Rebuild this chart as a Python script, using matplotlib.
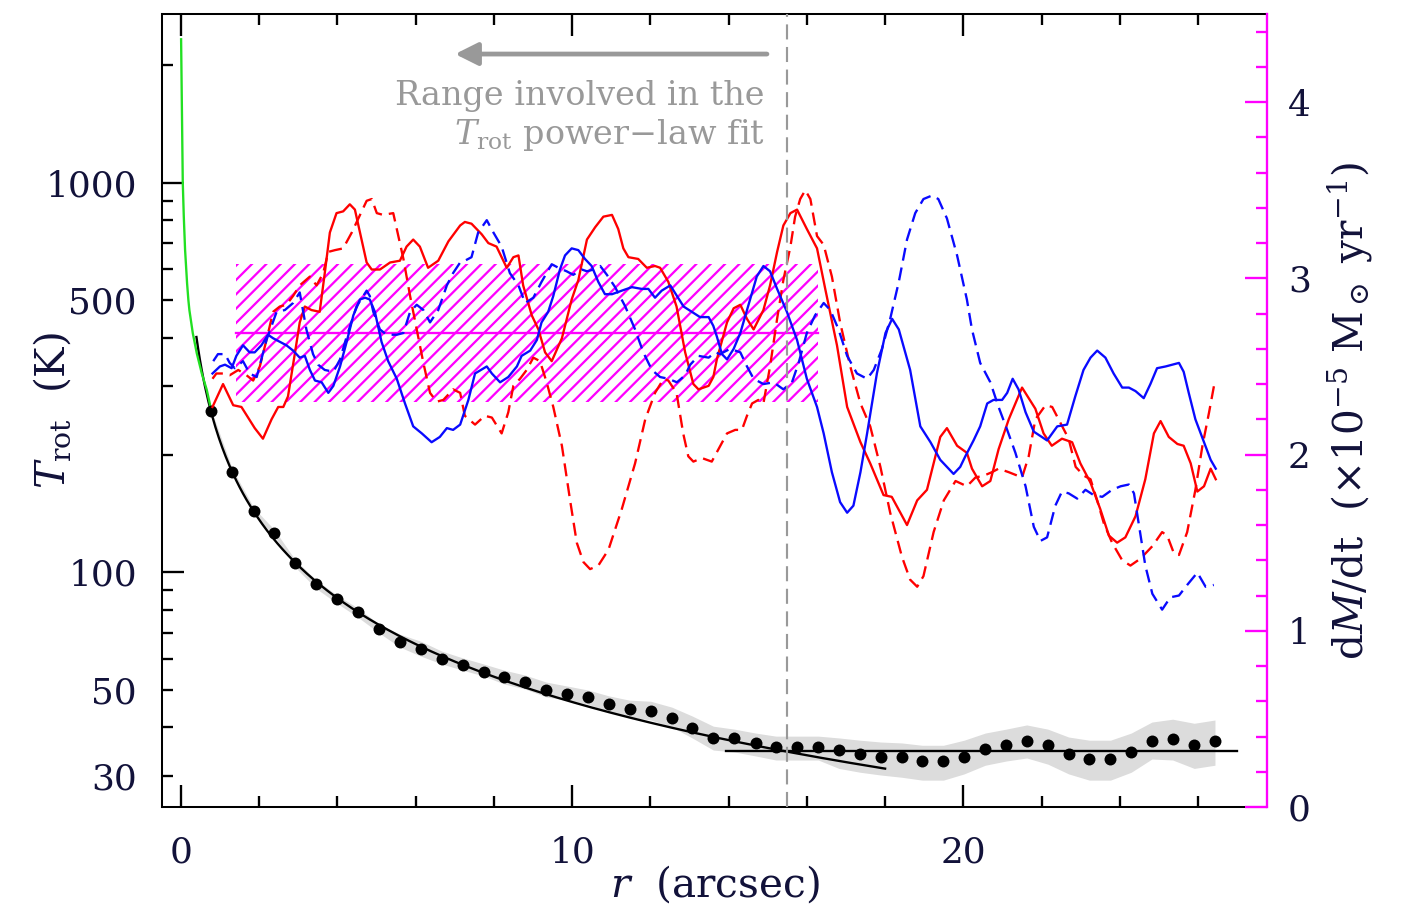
import numpy as np
import matplotlib
matplotlib.use("Agg")
import matplotlib.pyplot as plt
from matplotlib.ticker import FixedLocator, MultipleLocator, FuncFormatter
from matplotlib.patches import Rectangle

# ---------------- data ----------------
# T_rot radial profile (left axis, K)
DOT_R = [0.77, 1.32, 1.87, 2.39, 2.92, 3.46, 4.00, 4.52, 5.07, 5.60,
         6.13, 6.67, 7.21, 7.74, 8.27, 8.80, 9.34, 9.87, 10.41, 10.94,
         11.47, 12.01, 12.55, 13.07, 13.61, 14.15, 14.69, 15.21, 15.74, 16.29,
         16.82, 17.36, 17.89, 18.43, 18.95, 19.49, 20.02, 20.56, 21.09, 21.62,
         22.16, 22.69, 23.22, 23.76, 24.29, 24.82, 25.35, 25.90, 26.43]
DOT_T = [259.4, 181.2, 143.6, 126.4, 105.5, 93.1, 85.4, 78.9, 71.5, 66.3,
         63.5, 59.8, 58.0, 55.6, 54.0, 52.2, 49.9, 48.8, 47.9, 45.9,
         44.5, 44.1, 42.3, 39.9, 37.5, 37.5, 36.5, 35.6, 35.6, 35.6,
         35.0, 34.2, 33.6, 33.6, 32.8, 32.8, 33.6, 35.3, 36.0, 36.9,
         36.0, 34.2, 33.2, 33.2, 34.6, 36.9, 37.4, 36.0, 36.9]
BAND_HI = [262.5, 184.1, 146.2, 128.8, 107.9, 95.5, 87.4, 81.0, 73.7, 69.4,
           66.6, 62.8, 60.3, 58.2, 56.1, 54.5, 52.3, 51.1, 49.9, 48.2,
           47.0, 46.7, 45.1, 42.8, 40.3, 39.6, 38.7, 38.0, 38.0, 38.0,
           37.6, 37.1, 36.7, 36.5, 36.0, 36.0, 37.1, 38.7, 39.6, 40.6,
           39.6, 37.8, 37.1, 37.1, 38.7, 41.3, 42.0, 41.0, 41.8]
BAND_LO = [256.4, 178.2, 141.1, 124.0, 103.2, 90.9, 83.2, 76.8, 69.9, 64.3,
           61.0, 58.2, 56.1, 54.2, 51.7, 50.2, 47.9, 47.0, 45.9, 43.8,
           42.5, 41.8, 40.1, 37.6, 35.0, 34.6, 33.8, 33.0, 33.0, 33.0,
           31.4, 30.7, 30.2, 29.8, 29.3, 29.3, 30.4, 32.0, 32.8, 33.4,
           32.2, 30.4, 29.3, 29.3, 30.7, 33.2, 33.0, 31.4, 32.0]

# power-law fit T = T0 * r^-alpha, and its inward extrapolation (green)
FIT_T0 = 217.5
FIT_ALPHA = 0.67
FIT_R_RANGE = (0.40, 18.0)
GREEN_R = [0.008, 0.026, 0.041, 0.051, 0.077, 0.110, 0.161, 0.194, 0.220,
           0.307, 0.409, 0.537, 0.664, 0.774]
GREEN_T = [2334, 1631, 1213, 1000, 818, 672, 552, 500, 471,
           411, 365, 324, 294, 262]
# constant temperature in the outer part
MEAN_T = 34.8
MEAN_R_RANGE = (13.93, 26.99)

# mass-loss rate (right axis, 1e-5 Msun/yr): [r, dM/dt]
RED_SOLID = [
    (0.81, 2.27), (1.08, 2.40), (1.34, 2.28), (1.55, 2.27), (1.89, 2.15), (2.10, 2.09),
    (2.32, 2.20), (2.49, 2.27), (2.62, 2.27), (2.74, 2.33), (2.92, 2.58), (3.04, 2.75),
    (3.17, 2.84), (3.34, 2.82), (3.55, 2.81), (3.68, 3.03), (3.81, 3.26), (3.98, 3.37),
    (4.15, 3.38), (4.32, 3.42), (4.45, 3.39), (4.62, 3.22), (4.75, 3.09), (4.88, 3.05),
    (5.09, 3.05), (5.35, 3.09), (5.60, 3.10), (5.77, 3.18), (5.94, 3.22), (6.11, 3.18),
    (6.32, 3.06), (6.58, 3.10), (6.84, 3.21), (7.14, 3.30), (7.26, 3.32), (7.43, 3.31),
    (7.69, 3.25), (7.86, 3.20), (8.07, 3.18), (8.33, 3.06), (8.50, 3.12), (8.63, 3.13),
    (8.75, 2.96), (8.97, 2.79), (9.14, 2.71), (9.31, 2.58), (9.48, 2.53), (9.74, 2.66),
    (9.99, 2.88), (10.16, 2.99), (10.38, 3.22), (10.59, 3.29), (10.80, 3.35), (11.02, 3.36),
    (11.18, 3.28), (11.31, 3.17), (11.44, 3.12), (11.69, 3.11), (11.91, 3.06), (12.12, 3.07),
    (12.25, 3.06), (12.46, 2.98), (12.67, 2.84), (12.89, 2.58), (13.10, 2.40), (13.23, 2.37),
    (13.49, 2.39), (13.61, 2.44), (13.70, 2.54), (13.96, 2.75), (14.13, 2.83), (14.30, 2.85),
    (14.47, 2.77), (14.64, 2.71), (14.89, 2.82), (15.06, 2.96), (15.24, 3.15), (15.40, 3.30),
    (15.58, 3.37), (15.75, 3.39), (16.00, 3.28), (16.26, 3.17), (16.47, 2.94), (16.77, 2.62),
    (17.03, 2.27), (17.37, 2.07), (17.62, 1.95), (17.96, 1.77), (18.17, 1.76), (18.39, 1.67),
    (18.56, 1.60), (18.82, 1.74), (19.07, 1.80), (19.41, 2.10), (19.58, 2.15), (19.84, 2.05),
    (20.09, 2.01), (20.22, 1.92), (20.48, 1.82), (20.69, 1.85), (20.90, 2.03), (21.16, 2.20),
    (21.50, 2.38), (21.84, 2.26), (22.05, 2.12), (22.26, 2.05), (22.52, 2.09), (22.78, 2.07),
    (22.99, 1.95), (23.25, 1.84), (23.50, 1.69), (23.72, 1.54), (23.93, 1.50), (24.14, 1.53),
    (24.40, 1.65), (24.65, 1.86), (24.87, 2.12), (25.04, 2.19), (25.25, 2.10), (25.47, 2.06),
    (25.63, 2.05), (25.81, 1.95), (25.98, 1.79), (26.15, 1.82), (26.32, 1.92), (26.45, 1.86)]
RED_DASHED = [
    (0.81, 2.43), (0.91, 2.46), (1.08, 2.46), (1.25, 2.45), (1.47, 2.48), (1.68, 2.45),
    (1.85, 2.42), (2.02, 2.50), (2.19, 2.65), (2.36, 2.81), (2.53, 2.84), (2.70, 2.85),
    (2.87, 2.90), (3.04, 2.96), (3.30, 3.01), (3.47, 2.96), (3.64, 3.03), (3.77, 3.15),
    (3.94, 3.16), (4.15, 3.17), (4.37, 3.26), (4.58, 3.36), (4.75, 3.44), (4.88, 3.45),
    (5.01, 3.37), (5.17, 3.36), (5.43, 3.37), (5.56, 3.24), (5.69, 3.11), (5.86, 2.90),
    (6.03, 2.71), (6.20, 2.52), (6.37, 2.35), (6.54, 2.30), (6.71, 2.31), (6.96, 2.37),
    (7.14, 2.35), (7.26, 2.22), (7.52, 2.17), (7.77, 2.22), (7.95, 2.21), (8.20, 2.12),
    (8.37, 2.24), (8.50, 2.39), (8.67, 2.43), (8.84, 2.48), (9.01, 2.55), (9.18, 2.53),
    (9.35, 2.41), (9.52, 2.27), (9.74, 2.05), (9.95, 1.74), (10.12, 1.50), (10.29, 1.39),
    (10.46, 1.35), (10.67, 1.37), (10.93, 1.46), (11.27, 1.69), (11.61, 1.95), (11.87, 2.20),
    (12.12, 2.35), (12.34, 2.43), (12.46, 2.42), (12.67, 2.35), (12.84, 2.12), (12.97, 1.99),
    (13.10, 1.96), (13.32, 1.98), (13.57, 1.96), (13.74, 2.03), (13.96, 2.12), (14.17, 2.14),
    (14.34, 2.14), (14.47, 2.22), (14.60, 2.29), (14.76, 2.31), (14.89, 2.29), (15.06, 2.50),
    (15.24, 2.77), (15.40, 2.99), (15.58, 3.18), (15.70, 3.35), (15.83, 3.45), (15.96, 3.50),
    (16.09, 3.45), (16.26, 3.24), (16.43, 3.19), (16.64, 3.01), (16.85, 2.75), (17.11, 2.50),
    (17.37, 2.29), (17.62, 2.16), (17.88, 1.93), (18.13, 1.67), (18.43, 1.42), (18.64, 1.29),
    (18.82, 1.25), (18.98, 1.31), (19.24, 1.56), (19.50, 1.74), (19.80, 1.85), (20.09, 1.82),
    (20.31, 1.87), (20.52, 1.88), (20.73, 1.90), (20.90, 1.92), (21.16, 1.90), (21.50, 1.87),
    (21.67, 1.99), (21.84, 2.20), (22.10, 2.28), (22.27, 2.27), (22.48, 2.18), (22.69, 2.09),
    (22.87, 1.93), (23.08, 1.88), (23.25, 1.86), (23.42, 1.74), (23.59, 1.61), (23.80, 1.50),
    (24.06, 1.40), (24.27, 1.37), (24.53, 1.41), (24.83, 1.48), (25.08, 1.56), (25.21, 1.54),
    (25.38, 1.44), (25.51, 1.43), (25.72, 1.56), (25.93, 1.80), (26.11, 2.05), (26.28, 2.24),
    (26.43, 2.42)]
BLUE_SOLID = [
    (0.81, 2.46), (1.00, 2.50), (1.13, 2.51), (1.30, 2.49), (1.42, 2.56), (1.59, 2.62),
    (1.76, 2.58), (1.89, 2.58), (2.06, 2.62), (2.23, 2.68), (2.36, 2.66), (2.53, 2.64),
    (2.70, 2.62), (2.87, 2.59), (3.04, 2.55), (3.17, 2.56), (3.30, 2.48), (3.43, 2.42),
    (3.60, 2.41), (3.77, 2.35), (3.90, 2.39), (4.07, 2.50), (4.24, 2.64), (4.41, 2.79),
    (4.58, 2.88), (4.71, 2.89), (4.83, 2.88), (4.96, 2.81), (5.13, 2.64), (5.30, 2.53),
    (5.52, 2.43), (5.73, 2.29), (5.94, 2.16), (6.16, 2.12), (6.41, 2.07), (6.62, 2.10),
    (6.80, 2.15), (6.96, 2.14), (7.14, 2.17), (7.35, 2.31), (7.52, 2.46), (7.82, 2.50),
    (7.95, 2.46), (8.16, 2.41), (8.37, 2.44), (8.59, 2.50), (8.71, 2.56), (8.93, 2.59),
    (9.10, 2.65), (9.22, 2.75), (9.39, 2.81), (9.52, 2.90), (9.69, 3.05), (9.82, 3.13),
    (9.99, 3.17), (10.16, 3.16), (10.33, 3.11), (10.50, 3.07), (10.67, 2.98), (10.84, 2.91),
    (11.02, 2.91), (11.27, 2.93), (11.53, 2.95), (11.78, 2.94), (11.95, 2.94), (12.12, 2.89),
    (12.29, 2.93), (12.51, 2.96), (12.68, 2.90), (12.85, 2.84), (13.06, 2.81), (13.27, 2.78),
    (13.49, 2.78), (13.61, 2.73), (13.70, 2.67), (13.83, 2.57), (13.96, 2.54), (14.13, 2.60),
    (14.30, 2.69), (14.55, 2.88), (14.72, 3.01), (14.89, 3.07), (15.06, 3.04), (15.24, 2.94),
    (15.49, 2.81), (15.75, 2.65), (16.00, 2.43), (16.26, 2.27), (16.43, 2.12), (16.64, 1.90),
    (16.85, 1.73), (17.03, 1.67), (17.19, 1.71), (17.37, 1.90), (17.54, 2.12), (17.79, 2.46),
    (18.01, 2.69), (18.18, 2.77), (18.35, 2.71), (18.64, 2.48), (18.90, 2.16), (19.16, 2.07),
    (19.41, 1.97), (19.75, 1.89), (19.92, 1.93), (20.05, 1.99), (20.26, 2.08), (20.43, 2.16),
    (20.61, 2.29), (20.77, 2.31), (20.99, 2.31), (21.12, 2.35), (21.26, 2.43), (21.41, 2.37),
    (21.59, 2.24), (21.80, 2.13), (22.14, 2.08), (22.40, 2.16), (22.65, 2.17), (22.86, 2.33),
    (23.07, 2.48), (23.25, 2.55), (23.42, 2.59), (23.63, 2.55), (23.84, 2.46), (24.06, 2.38),
    (24.23, 2.38), (24.40, 2.36), (24.61, 2.32), (24.78, 2.40), (24.95, 2.49), (25.17, 2.50),
    (25.34, 2.51), (25.51, 2.52), (25.63, 2.47), (25.76, 2.35), (25.93, 2.20), (26.15, 2.07),
    (26.32, 1.97), (26.45, 1.92)]
BLUE_DASHED = [
    (0.83, 2.53), (0.95, 2.57), (1.13, 2.57), (1.25, 2.52), (1.38, 2.49), (1.59, 2.53),
    (1.76, 2.46), (1.94, 2.44), (2.19, 2.65), (2.45, 2.81), (2.66, 2.82), (2.87, 2.86),
    (3.04, 2.92), (3.21, 2.71), (3.38, 2.57), (3.51, 2.51), (3.68, 2.48), (3.90, 2.47),
    (4.07, 2.54), (4.24, 2.67), (4.49, 2.84), (4.75, 2.93), (4.83, 2.90), (4.92, 2.81),
    (5.09, 2.71), (5.26, 2.68), (5.52, 2.68), (5.69, 2.69), (5.86, 2.81), (6.03, 2.85),
    (6.20, 2.82), (6.37, 2.75), (6.58, 2.82), (6.80, 2.96), (6.96, 3.03), (7.14, 3.09),
    (7.26, 3.10), (7.43, 3.12), (7.60, 3.26), (7.82, 3.33), (7.99, 3.26), (8.20, 3.18),
    (8.41, 3.03), (8.63, 2.96), (8.80, 2.86), (9.01, 2.89), (9.22, 2.98), (9.48, 3.08),
    (9.65, 3.06), (9.86, 3.04), (10.03, 3.02), (10.25, 3.05), (10.38, 3.04), (10.55, 3.05),
    (10.72, 3.07), (10.89, 3.02), (11.10, 2.95), (11.36, 2.84), (11.61, 2.71), (11.82, 2.58),
    (12.04, 2.48), (12.25, 2.44), (12.46, 2.43), (12.68, 2.41), (12.89, 2.45), (13.02, 2.51),
    (13.23, 2.56), (13.49, 2.55), (13.66, 2.58), (13.78, 2.57), (14.04, 2.60), (14.30, 2.58),
    (14.47, 2.50), (14.64, 2.43), (14.89, 2.40), (15.15, 2.41), (15.40, 2.37), (15.62, 2.41),
    (15.79, 2.52), (16.00, 2.69), (16.21, 2.79), (16.43, 2.86), (16.60, 2.82), (16.81, 2.71),
    (17.03, 2.56), (17.28, 2.46), (17.54, 2.43), (17.71, 2.48), (17.92, 2.60), (18.13, 2.77),
    (18.35, 2.98), (18.56, 3.22), (18.77, 3.37), (18.98, 3.45), (19.20, 3.47), (19.36, 3.45),
    (19.58, 3.34), (19.84, 3.13), (20.09, 2.88), (20.22, 2.71), (20.43, 2.52), (20.69, 2.41),
    (20.90, 2.27), (21.12, 2.14), (21.33, 2.01), (21.59, 1.82), (21.80, 1.59), (21.97, 1.51),
    (22.14, 1.53), (22.35, 1.71), (22.52, 1.79), (22.69, 1.78), (22.91, 1.75), (23.12, 1.80),
    (23.33, 1.77), (23.55, 1.76), (23.80, 1.80), (24.02, 1.82), (24.23, 1.83), (24.36, 1.78),
    (24.48, 1.61), (24.65, 1.37), (24.83, 1.21), (25.08, 1.12), (25.29, 1.19), (25.51, 1.20),
    (25.72, 1.26), (25.98, 1.33), (26.19, 1.25), (26.40, 1.26)]

# mean mass-loss rate and its range over the fitted radii
MDOT_MEAN = 2.69
MDOT_LO, MDOT_HI = 2.30, 3.08
MDOT_R_RANGE = (1.41, 16.29)

# limit of the range used in the power-law fit
FIT_LIMIT_R = 15.49
ARROW_R = (14.98, 7.01)
ARROW_T = 2139
TEXT_R = 14.93
TEXT_T = (1582, 1257)
TEXT_LINES = ["Range involved in the", "$T_{\\rm rot}$ power\u2212law fit"]

X_MAJOR = [0, 10, 20]
Y_MAJOR = [100, 1000]
Y_MINOR = [30, 40, 50, 60, 70, 80, 90, 200, 300, 400, 500, 600, 700, 800, 900, 2000]
Y_MINOR_LABELED = [30, 50, 500]
Y2_MAJOR = [0, 1, 2, 3, 4]

# ---------------- style ----------------
DPI = 86
W, H = 1408, 907
plt.rcParams['font.family'] = ['DejaVu Serif', 'DejaVu Sans']
plt.rcParams['mathtext.fontset'] = 'dejavuserif'
plt.rcParams['hatch.linewidth'] = 1.9
plt.rcParams['axes.linewidth'] = 1.7

NAVY = '#12123a'
MAG = '#ff00ff'
RED = '#ff0000'
BLUE = '#0a0aff'
GREEN = '#22e022'
GRAY = '#999999'
BANDC = '#dcdcdc'
LW = 1.95

fig = plt.figure(figsize=(W / DPI, H / DPI), dpi=DPI)
ax = fig.add_axes([162 / W, 1 - 807 / H, (1267 - 162) / W, (807 - 14) / H])
ax.set_yscale('log')
ax.set_xlim(-0.48, 27.76)
ax.set_ylim(25, 2710)

# temperature profile
ax.fill_between(DOT_R, BAND_LO, BAND_HI, color=BANDC, lw=0, zorder=1)
rr = np.linspace(FIT_R_RANGE[0], FIT_R_RANGE[1], 400)
ax.plot(rr, FIT_T0 * rr ** (-FIT_ALPHA), color='k', lw=LW, zorder=2)
ax.plot(MEAN_R_RANGE, [MEAN_T, MEAN_T], color='k', lw=LW, zorder=2)
ax.plot(GREEN_R, GREEN_T, color=GREEN, lw=LW, zorder=3)
ax.plot(DOT_R, DOT_T, 'o', color='k', ms=10, mec='none', zorder=4)

# annotation
for t, yv in zip(TEXT_LINES, TEXT_T):
    ax.text(TEXT_R, yv, t, ha='right', va='baseline', fontsize=28, color=GRAY)
ax.annotate('', xy=(ARROW_R[1], ARROW_T), xytext=(ARROW_R[0], ARROW_T),
            arrowprops=dict(arrowstyle='-|>,head_length=1.6,head_width=0.8',
                            color=GRAY, lw=4, shrinkA=0, shrinkB=0))

# ticks / left axis
ax.xaxis.set_major_locator(FixedLocator(X_MAJOR))
ax.xaxis.set_minor_locator(MultipleLocator(2))
ax.xaxis.set_major_formatter(FuncFormatter(lambda v, p: f'{v:g}'))
ax.tick_params(axis='x', which='both', direction='in', top=True, bottom=True,
               width=LW, color='k', labelcolor=NAVY, labelsize=30, pad=24)
ax.tick_params(axis='x', which='major', length=18.5)
ax.tick_params(axis='x', which='minor', length=9.2)

ax.yaxis.set_major_locator(FixedLocator(Y_MAJOR))
ax.yaxis.set_minor_locator(FixedLocator(Y_MINOR))
ax.yaxis.set_major_formatter(FuncFormatter(lambda v, p: f'{v:g}'))
ax.yaxis.set_minor_formatter(FuncFormatter(
    lambda v, p: f'{v:g}' if any(abs(v - l) < 1e-6 for l in Y_MINOR_LABELED) else ''))
ax.tick_params(axis='y', which='both', direction='in', left=True, right=False,
               width=LW, color='k', labelcolor=NAVY, labelsize=30, pad=21)
ax.tick_params(axis='y', which='major', length=18.5)
ax.tick_params(axis='y', which='minor', length=9.2)
ax.spines['right'].set_visible(False)

ax.set_xlabel('$r$  (arcsec)', fontsize=34, color=NAVY)
ax.xaxis.set_label_coords(0.5005, -0.072)
ax.set_ylabel('$T_{\\rm rot}$  (K)', fontsize=34, color=NAVY)
ax.yaxis.set_label_coords(-0.0796, 0.5)

# right axis: mass-loss rate
ax2 = ax.twinx()
ax2.set_ylim(0, 4.5)
ax2.add_patch(Rectangle((MDOT_R_RANGE[0], MDOT_LO), MDOT_R_RANGE[1] - MDOT_R_RANGE[0],
                        MDOT_HI - MDOT_LO, facecolor='none', edgecolor=MAG, lw=0,
                        hatch='//', zorder=1))
ax2.plot(MDOT_R_RANGE, [MDOT_MEAN, MDOT_MEAN], color=MAG, lw=LW, zorder=2)

for data, col, dashed in [(RED_SOLID, RED, False), (RED_DASHED, RED, True),
                          (BLUE_SOLID, BLUE, False), (BLUE_DASHED, BLUE, True)]:
    arr = np.array(data)
    if dashed:
        ax2.plot(arr[:, 0], arr[:, 1], color=col, lw=LW, dashes=(5.6, 3.0), zorder=3)
    else:
        ax2.plot(arr[:, 0], arr[:, 1], color=col, lw=LW, zorder=3)

ax2.axvline(FIT_LIMIT_R, color=GRAY, lw=1.8, dashes=(7, 3.5), zorder=5)

ax2.yaxis.set_major_locator(FixedLocator(Y2_MAJOR))
ax2.yaxis.set_minor_locator(MultipleLocator(0.2))
ax2.yaxis.set_major_formatter(FuncFormatter(lambda v, p: f'{v:g}'))
ax2.tick_params(axis='y', which='both', direction='in', right=True, left=False,
                width=LW, color=MAG, labelcolor=NAVY, labelsize=30, pad=17.5)
ax2.tick_params(axis='y', which='major', length=18.5)
ax2.tick_params(axis='y', which='minor', length=9.2)
for s in ['left', 'top', 'bottom']:
    ax2.spines[s].set_visible(False)
ax2.spines['right'].set_color(MAG)
ax2.spines['right'].set_linewidth(LW)
ax2.set_ylabel('d$M$/dt  ($\\times$10$^{-5}$ M$_\\odot$ yr$^{-1}$)', fontsize=34, color=NAVY)
ax2.yaxis.set_label_coords(1.0534, 0.5)

fig.savefig('out.png', dpi=DPI)
